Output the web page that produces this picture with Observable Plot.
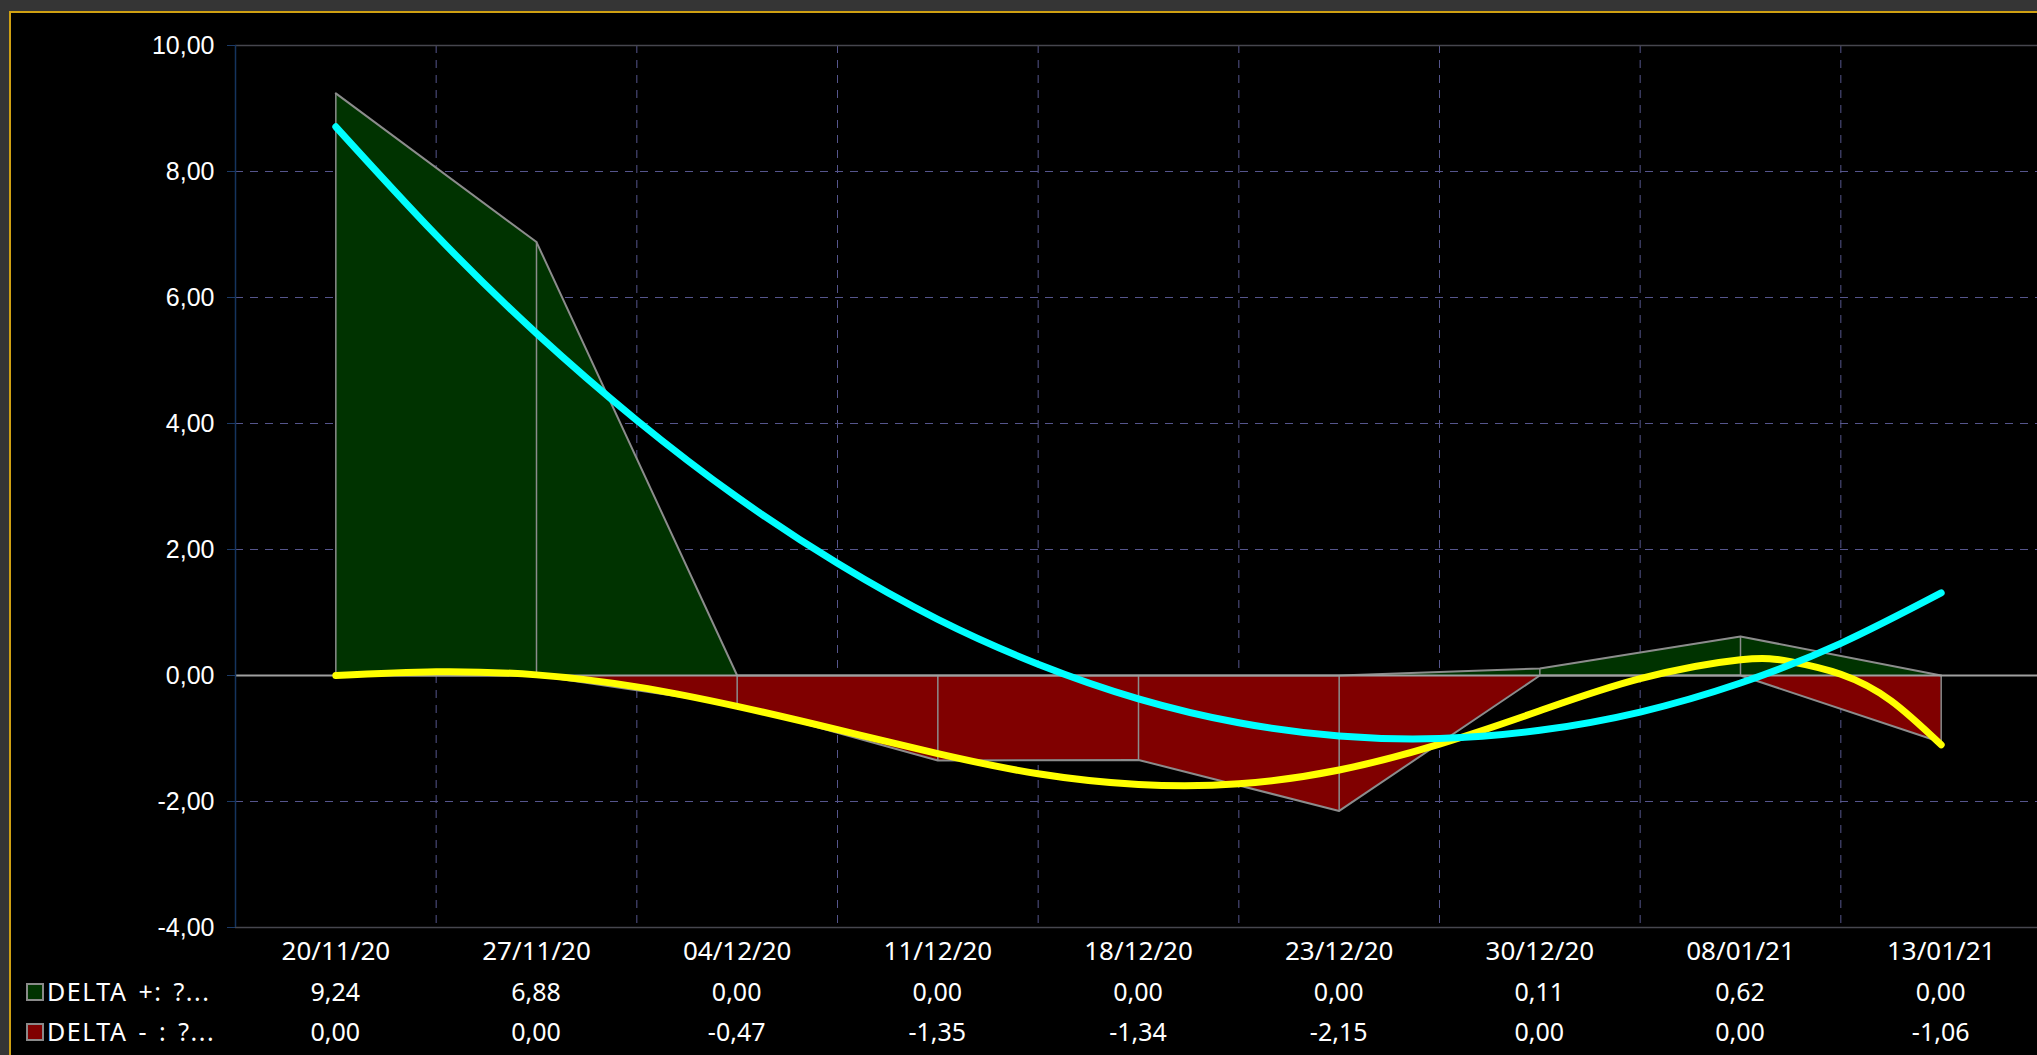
<!DOCTYPE html>
<html>
<head>
<meta charset="utf-8">
<script src="https://cdn.jsdelivr.net/npm/d3@7"></script>
<script src="https://cdn.jsdelivr.net/npm/@observablehq/plot@0.6"></script>
<style>
  html, body { margin: 0; padding: 0; background: #353535; overflow: hidden; width: 2037px; height: 1055px; }
  #frame { position: absolute; left: 9px; top: 11px; width: 2100px; height: 1100px; background: #000;
           border-top: 2px solid #cfa012; border-left: 2px solid #cfa012; }
  #chart { position: absolute; left: 0; top: 0; }
  #table { position: absolute; left: 0; top: 971px; width: 2100px; color: #fff; font-family: "Noto Sans", sans-serif; font-size: 25px; }
  .row { position: relative; height: 40px; }
  .cell { position: absolute; top: 0; height: 40px; line-height: 40px; text-align: center; }
  .lab { position: absolute; left: 26px; top: 0; height: 40px; line-height: 40px; white-space: nowrap; letter-spacing: 1.5px; word-spacing: 3px; }
  .sw { display: inline-block; width: 14px; height: 14px; border: 2px solid #8a8a8a; vertical-align: middle; margin-right: 3px; position: relative; top: -2px; }
</style>
</head>
<body>
<div id="frame"></div>
<div id="chart"></div>
<div id="table"></div>
<script>
// ---- data ----
const dates = ["20/11/20", "27/11/20", "04/12/20", "11/12/20", "18/12/20", "23/12/20", "30/12/20", "08/01/21", "13/01/21"];
const deltaPlus = [9.24, 6.88, 0, 0, 0, 0, 0.11, 0.62, 0];
const deltaMinus = [0, 0, -0.47, -1.35, -1.34, -2.15, 0, 0, -1.06];
const seriesNames = ["DELTA +: ?...", "DELTA - : ?..."];
const seriesColors = ["#003300", "#800000"];
// trend curves (positions in category units)
const trendPlusSteps = [0, 0.5, 1, 1.5, 2, 2.5, 3, 3.5, 4, 4.5, 5, 5.5, 6, 6.5, 7, 7.5, 8];
const trendPlus      = [8.71, 6.99, 5.43, 4.05, 2.83, 1.78, 0.89, 0.18, -0.37, -0.75, -0.96, -1.00, -0.87, -0.58, -0.12, 0.51, 1.31];
const trendMinusSteps = [0, 0.5, 1, 1.5, 2, 2.5, 3, 3.5, 4, 4.5, 5, 5.5, 6, 6.5, 7, 7.25, 7.5, 7.75, 8];
const trendMinus      = [0.00, 0.06, 0.01, -0.18, -0.49, -0.86, -1.24, -1.56, -1.73, -1.72, -1.50, -1.09, -0.56, -0.05, 0.25, 0.22, 0.02, -0.40, -1.10];
const yTicks = [-4, -2, 0, 2, 4, 6, 8, 10];

const fmt = v => v.toFixed(2).replace(".", ",");
const idx = dates.map((_, i) => i);
const yMin = d3.min(yTicks), yMax = d3.max(yTicks);
const xMin = -0.5, xMax = dates.length - 0.5;
const gridY = yTicks.filter(v => v !== 0 && v !== yMin && v !== yMax);
const gridX = idx.slice(1).map(i => i - 0.5);
const trendP = trendPlusSteps.map((s, k) => ({s, v: trendPlus[k]}));
const trendM = trendMinusSteps.map((s, k) => ({s, v: trendMinus[k]}));

const gridColor = "#55558c";
const outline = "#8c8c8c";

const chart = Plot.plot({
  width: 2100,
  height: 970,
  marginLeft: 235,
  marginRight: 59,
  marginTop: 45,
  marginBottom: 43,
  style: { background: "transparent", maxWidth: "none", color: "#fff", overflow: "visible", fontFamily: "Liberation Sans, sans-serif" },
  x: { type: "linear", domain: [xMin, xMax] },
  y: { domain: [yMin, yMax] },
  marks: [
    // grid
    Plot.ruleY(gridY, { stroke: gridColor, strokeDasharray: "8,7", strokeWidth: 1 }),
    Plot.ruleX(gridX, { stroke: gridColor, strokeDasharray: "8,7", strokeWidth: 1 }),
    Plot.ruleY([yMax, yMin], { stroke: "#46464e", strokeWidth: 1.5 }),
    // areas
    Plot.areaY(idx, { x: i => i, y1: 0, y2: i => deltaPlus[i], fill: seriesColors[0] }),
    Plot.areaY(idx, { x: i => i, y1: 0, y2: i => deltaMinus[i], fill: seriesColors[1] }),
    Plot.ruleX(idx, { x: i => i, y1: 0, y2: i => deltaPlus[i], stroke: outline, strokeWidth: 1.5 }),
    Plot.ruleX(idx, { x: i => i, y1: 0, y2: i => deltaMinus[i], stroke: outline, strokeWidth: 1.5 }),
    Plot.lineY(idx, { x: i => i, y: i => deltaPlus[i], stroke: outline, strokeWidth: 2 }),
    Plot.lineY(idx, { x: i => i, y: i => deltaMinus[i], stroke: outline, strokeWidth: 2 }),
    Plot.ruleY([0], { stroke: "#a0a0a0", strokeWidth: 2 }),
    Plot.ruleX([xMin], { stroke: "#15345e", strokeWidth: 1.5 }),
    // trends
    Plot.line(trendM, { x: "s", y: "v", stroke: "#ffff00", strokeWidth: 7, curve: "natural", strokeLinecap: "round" }),
    Plot.line(trendP, { x: "s", y: "v", stroke: "#00ffff", strokeWidth: 7, curve: "natural", strokeLinecap: "round" }),
    // axes
    Plot.axisY({ ticks: yTicks, tickFormat: fmt, tickSize: 8, tickPadding: 13, stroke: "#1c3a66", fill: "#fff",
                 fontFamily: "Liberation Sans, sans-serif", fontSize: 25, label: null }),
    Plot.axisX({ ticks: idx, tickFormat: i => dates[i], tickSize: 0, tickPadding: 14, fill: "#fff",
                 fontFamily: "Noto Sans, sans-serif", fontSize: 26, label: null })
  ]
});
document.getElementById("chart").appendChild(chart);

// value table below the chart, aligned with the x scale
const xs = chart.scale("x");
const step = xs.apply(1) - xs.apply(0);
const table = document.getElementById("table");
[deltaPlus, deltaMinus].forEach((vals, r) => {
  const row = document.createElement("div");
  row.className = "row";
  const lab = document.createElement("div");
  lab.className = "lab";
  lab.innerHTML = `<span class="sw" style="background:${seriesColors[r]}"></span>`;
  lab.appendChild(document.createTextNode(seriesNames[r]));
  row.appendChild(lab);
  vals.forEach((v, i) => {
    const c = document.createElement("div");
    c.className = "cell";
    c.style.left = (xs.apply(i) - step / 2) + "px";
    c.style.width = step + "px";
    c.textContent = fmt(v);
    row.appendChild(c);
  });
  table.appendChild(row);
});
</script>
</body>
</html>
